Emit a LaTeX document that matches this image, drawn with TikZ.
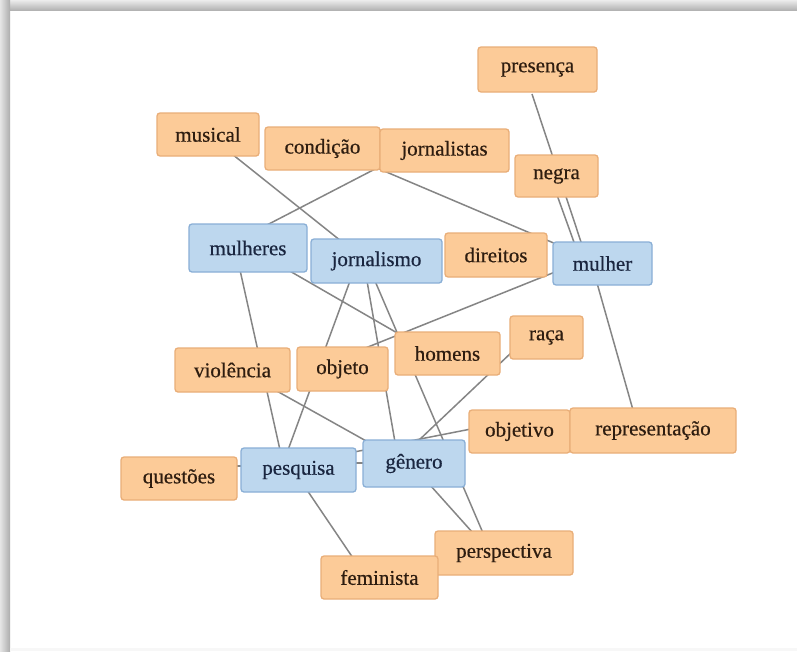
\documentclass[tikz,border=0pt]{standalone}
\usepackage{fontspec}
\setmainfont{Liberation Serif}
\newfontfamily\nodefont{Liberation Serif}[BoldFont={Liberation Serif}, BoldFeatures={FakeBold=0.5}]
\definecolor{orfill}{HTML}{FCCB98}
\definecolor{ordraw}{HTML}{E9AE78}
\definecolor{blfill}{HTML}{BDD7EE}
\definecolor{bldraw}{HTML}{8AAFD6}
\definecolor{edgec}{HTML}{858585}
\definecolor{ortext}{HTML}{2E1D10}
\definecolor{bltext}{HTML}{1A2640}
\pgfdeclarelayer{framelayer}
\pgfdeclarelayer{linklayer}
\pgfsetlayers{framelayer,linklayer,main}
\begin{document}
\begin{tikzpicture}[x=1pt,y=-1pt,
  box/.style={rounded corners=3pt, line width=1.3pt, inner sep=0pt, font=\nodefont\fontsize{21}{24}\selectfont\bfseries},
  wo/.style={box, fill=orfill, draw=ordraw, text=ortext},
  wb/.style={box, fill=blfill, draw=bldraw, text=bltext},
  sz/.style 2 args={minimum width=#1pt, minimum height=#2pt},
  link/.style={draw=edgec, line width=1.5pt}]
\useasboundingbox (0,0) rectangle (797,651);
% nodes
\node[wo, sz={119}{45}] (presenca) at (537.5,69.5) {presença};
\node[wo, sz={102}{43}] (musical) at (208,134.5) {musical};
\node[wo, sz={115}{43}] (condicao) at (322.5,148.5) {condição};
\node[wo, sz={129}{43}] (jornalistas) at (444.5,150.5) {jornalistas};
\node[wo, sz={83}{42}] (negra) at (556.5,176) {negra};
\node[wb, sz={118}{48}] (mulheres) at (248,248) {mulheres};
\node[wb, sz={131}{44}] (jornalismo) at (376.5,261) {jornalismo};
\node[wo, sz={102}{44}] (direitos) at (496,255) {direitos};
\node[wb, sz={99}{43}] (mulher) at (602.5,263.5) {mulher};
\node[wo, sz={115}{44}] (violencia) at (232.5,370) {violência};
\node[wo, sz={91}{44}] (objeto) at (342.5,369) {objeto};
\node[wo, sz={105}{43}] (homens) at (447.5,353.5) {homens};
\node[wo, sz={73}{43}] (raca) at (546.5,337.5) {raça};
\node[wo, sz={101}{43}] (objetivo) at (519.5,431.5) {objetivo};
\node[wo, sz={166}{45}] (representacao) at (653,430.5) {representação};
\node[wb, sz={115}{44}] (pesquisa) at (298.5,470) {pesquisa};
\node[wb, sz={102}{47}] (genero) at (414,463.5) {gênero};
\node[wo, sz={116}{43}] (questoes) at (179,478.5) {questões};
\node[wo, sz={138}{44}] (perspectiva) at (504,553) {perspectiva};
\node[wo, sz={117}{43}] (feminista) at (379.5,577.5) {feminista};
% frame
\begin{pgfonlayer}{framelayer}
  \fill[white] (0,0) rectangle (797,651);
  \shade[top color=gray!15, bottom color=gray!60] (0,0) rectangle (797,10);
  \shade[left color=gray!20, right color=gray!65] (0,0) rectangle (10,651);
  \fill[gray!6] (10,648) rectangle (797,651);
\end{pgfonlayer}
% connectors
\begin{pgfonlayer}{linklayer}
  \path[link] ([shift={(-5.5,24.5)}]presenca.center) -- ([shift={(-20.5,-18.5)}]mulher.center);
  \path[link] ([shift={(0.5,19)}]negra.center) -- ([shift={(-27.5,-18.5)}]mulher.center);
  \path[link] ([shift={(-67.5,17.5)}]jornalistas.center) -- ([shift={(17,-22)}]mulheres.center);
  \path[link] ([shift={(-67.5,17.5)}]jornalistas.center) -- ([shift={(-46.5,-19.5)}]mulher.center);
  \path[link] ([shift={(24,19.5)}]musical.center) -- ([shift={(-35.5,-20)}]jornalismo.center);
  \path[link] ([shift={(40,22)}]mulheres.center) -- ([shift={(-48.5,-19.5)}]homens.center);
  \path[link] ([shift={(-8,22)}]mulheres.center) -- ([shift={(-18.5,-20)}]pesquisa.center);
  \path[link] ([shift={(-26.5,20)}]jornalismo.center) -- ([shift={(-10.5,-20)}]pesquisa.center);
  \path[link] ([shift={(-9.5,20)}]jornalismo.center) -- ([shift={(-19,-21.5)}]genero.center);
  \path[link] ([shift={(-1.5,20)}]jornalismo.center) -- ([shift={(-21,-20)}]perspectiva.center);
  \path[link] ([shift={(-47.5,8.5)}]mulher.center) -- ([shift={(20.5,-20)}]objeto.center);
  \path[link] ([shift={(-5.5,19.5)}]mulher.center) -- ([shift={(-20,-20.5)}]representacao.center);
  \path[link] ([shift={(-34.5,14.5)}]raca.center) -- ([shift={(3,-21.5)}]genero.center);
  \path[link] ([shift={(42.5,20)}]violencia.center) -- ([shift={(-46,-21.5)}]genero.center);
  \path[link] ([shift={(-48.5,-2.5)}]objetivo.center) -- ([shift={(55.5,-18)}]pesquisa.center);
  \path[link] ([shift={(55.5,-7)}]pesquisa.center) -- ([shift={(-49,-0.5)}]genero.center);
  \path[link] ([shift={(56,-12.5)}]questoes.center) -- ([shift={(-55.5,-4)}]pesquisa.center);
  \path[link] ([shift={(8.5,20)}]pesquisa.center) -- ([shift={(-26.5,-19.5)}]feminista.center);
  \path[link] ([shift={(16,21.5)}]genero.center) -- ([shift={(-31,-20)}]perspectiva.center);
\end{pgfonlayer}
\end{tikzpicture}
\end{document}
